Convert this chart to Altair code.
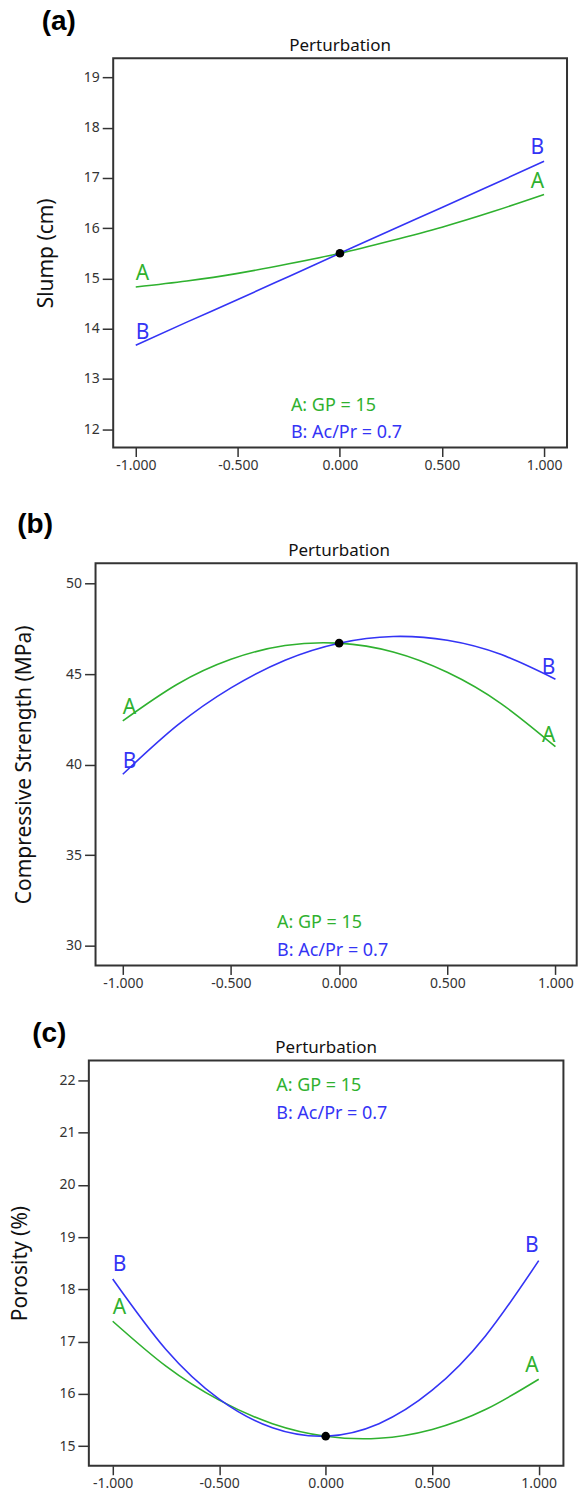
import altair as alt
import pandas as pd

# ---------------- data ----------------
x_vals = [-1.0, -0.75, -0.5, -0.25, 0.0, 0.25, 0.5, 0.75, 1.0]

slump_A = [14.83, 14.95, 15.10, 15.29, 15.50, 15.75, 16.02, 16.33, 16.67]
slump_B = [13.67, 14.13, 14.58, 15.04, 15.50, 15.96, 16.41, 16.87, 17.33]

cs_A = [42.42, 44.43, 45.82, 46.58, 46.71, 46.22, 45.10, 43.36, 40.99]
cs_B = [39.47, 42.15, 44.24, 45.77, 46.71, 47.08, 46.87, 46.08, 44.72]

por_A = [17.39, 16.53, 15.88, 15.43, 15.19, 15.15, 15.32, 15.70, 16.28]
por_B = [18.20, 16.85, 15.90, 15.35, 15.19, 15.43, 16.07, 17.11, 18.55]

center_vals = [15.50, 46.71, 15.19]

series_names = ["A", "B"]
legend_lines = ["A: GP = 15", "B: Ac/Pr = 0.7"]
y_titles = ["Slump (cm)", "Compressive Strength (MPa)", "Porosity (%)"]
panel_tags = ["(a)", "(b)", "(c)"]
top_title = "Perturbation"
x_ticks = [-1.0, -0.5, 0.0, 0.5, 1.0]
y_ticks = [[12, 13, 14, 15, 16, 17, 18, 19], [30, 35, 40, 45, 50], [15, 16, 17, 18, 19, 20, 21, 22]]

# curve-end tags: (series, x, y) -- left ones and right ones
tags_left = [
    [("A", -1.0, 14.96), ("B", -1.0, 13.79)],
    [("A", -1.0, 42.82), ("B", -1.0, 39.80)],
    [("A", -1.0, 17.53), ("B", -1.0, 18.35)],
]
tags_right = [
    [("A", 1.0, 16.79), ("B", 1.0, 17.47)],
    [("A", 1.0, 41.27), ("B", 1.0, 45.02)],
    [("A", 1.0, 16.42), ("B", 1.0, 18.72)],
]

GREEN = "#2fb12f"
BLUE = "#3434f5"
FONT = "Noto Sans"
FRAME = "#333333"

# ---------------- layout (pixels) ----------------
X0 = 88.3  # common left edge of the plotting rectangles
layout = [
    dict(frame=24.4, w=479.0, h=390.0, xdom=[-1.2298, 1.1125], ydom=[11.634, 19.383],
         title_x=-66.7, tag_xy=(-47.3, -28.7), leg_x=202.4, leg_y=(353.3, 380.3),
         head_x=251.7, span=(-56.7, 433.3)),
    dict(frame=6.7, w=488.7, h=402.8, xdom=[-1.1569, 1.0983], ydom=[28.91, 51.12],
         title_x=-71.0, tag_xy=(-71.7, -30.2), leg_x=188.5, leg_y=(365.8, 393.8),
         head_x=250.7, span=(-71.2, 443.8)),
    dict(frame=0.0, w=475.4, h=406.0, xdom=[-1.112, 1.116], ydom=[14.624, 22.382],
         title_x=-68.3, tag_xy=(-56.8, -18.0), leg_x=187.7, leg_y=(31.0, 59.0),
         head_x=237.7, span=(-54.0, 440.0)),
]

curves = [(slump_A, slump_B), (cs_A, cs_B), (por_A, por_B)]
color_scale = alt.Scale(domain=series_names, range=[GREEN, BLUE])


def make_panel(i):
    L = layout[i]
    a_vals, b_vals = curves[i]
    df = pd.DataFrame({
        "x": x_vals + x_vals,
        "y": a_vals + b_vals,
        "series": ["A"] * len(x_vals) + ["B"] * len(x_vals),
    })
    xaxis = alt.Axis(values=x_ticks, title=None, domain=False, grid=False,
                     labelExpr="replace(format(datum.value, '.3f'), '\u2212', '-')",
                     tickSize=9, tickWidth=1.5, tickColor=FRAME, labelFontSize=14,
                     labelFont=FONT, labelColor="#333333", labelPadding=2,
                     labelFlush=False, labelOverlap=False)
    yaxis = alt.Axis(values=y_ticks[i], format="d", title=y_titles[i], domain=False, grid=False,
                     tickSize=11, tickWidth=1.5, tickColor=FRAME, labelFontSize=14,
                     labelFont=FONT, labelColor="#333333", labelPadding=3,
                     titleFont=FONT, titleFontSize=21, titleFontWeight="normal",
                     titleColor="#111111", titleX=L["title_x"], titleBaseline="middle",
                     labelOverlap=False, offset=-L["frame"])
    X = alt.X("x:Q", scale=alt.Scale(domain=L["xdom"], nice=False, zero=False), axis=xaxis)
    Y = alt.Y("y:Q", scale=alt.Scale(domain=L["ydom"], nice=False, zero=False), axis=yaxis)

    lines = alt.Chart(df).mark_line(interpolate="natural", strokeWidth=1.6).encode(
        x=X, y=Y, color=alt.Color("series:N", scale=color_scale, legend=None)
    )
    dot = alt.Chart(pd.DataFrame({"x": [0.0], "y": [center_vals[i]]})).mark_circle(
        size=75, color="black", opacity=1
    ).encode(x=X, y=Y)

    tl = pd.DataFrame(tags_left[i], columns=["series", "x", "y"])
    tr = pd.DataFrame(tags_right[i], columns=["series", "x", "y"])
    tag_l = alt.Chart(tl).mark_text(align="left", baseline="alphabetic", fontSize=21, font=FONT).encode(
        x=X, y=Y, text="series:N", color=alt.Color("series:N", scale=color_scale, legend=None)
    )
    tag_r = alt.Chart(tr).mark_text(align="right", baseline="alphabetic", fontSize=21, font=FONT).encode(
        x=X, y=Y, text="series:N", color=alt.Color("series:N", scale=color_scale, legend=None)
    )

    one = pd.DataFrame({"k": [0]})
    frame = alt.Chart(one).mark_rect(filled=False, stroke=FRAME, strokeWidth=2).encode(
        x=alt.value(L["frame"]), x2=alt.value(L["w"]), y=alt.value(0), y2=alt.value(L["h"])
    )
    leg_a = alt.Chart(one).mark_text(align="left", baseline="alphabetic", fontSize=18, font=FONT).encode(
        x=alt.value(L["leg_x"]), y=alt.value(L["leg_y"][0]), text=alt.value(legend_lines[0]),
        color=alt.value(GREEN)
    )
    leg_b = alt.Chart(one).mark_text(align="left", baseline="alphabetic", fontSize=18, font=FONT).encode(
        x=alt.value(L["leg_x"]), y=alt.value(L["leg_y"][1]), text=alt.value(legend_lines[1]),
        color=alt.value(BLUE)
    )
    head = alt.Chart(one).mark_text(align="center", baseline="alphabetic", fontSize=17, font=FONT).encode(
        x=alt.value(L["head_x"]), y=alt.value(-7), text=alt.value(top_title), color=alt.value("#111111")
    )
    tag = alt.Chart(one).mark_text(align="left", baseline="alphabetic", fontSize=28,
                                   font="Liberation Sans", fontWeight="bold").encode(
        x=alt.value(L["tag_xy"][0]), y=alt.value(L["tag_xy"][1]), text=alt.value(panel_tags[i]),
        color=alt.value("black")
    )
    # invisible guide fixing the panel's outer box for the layout
    guide = alt.Chart(one).mark_rule(opacity=0, strokeOpacity=0).encode(
        x=alt.value(-X0), y=alt.value(L["span"][0]), y2=alt.value(L["span"][1])
    )

    return alt.layer(frame, lines, dot, tag_l, tag_r, leg_a, leg_b, head, tag, guide).properties(
        width=L["w"], height=L["h"],
    )


chart = alt.vconcat(
    make_panel(0), make_panel(1), make_panel(2), spacing=0, bounds="full",
).properties(padding=0).configure(font=FONT).configure_view(stroke="transparent", strokeWidth=0)

chart.save("out.html", embed_options={"renderer": "svg", "actions": False})
